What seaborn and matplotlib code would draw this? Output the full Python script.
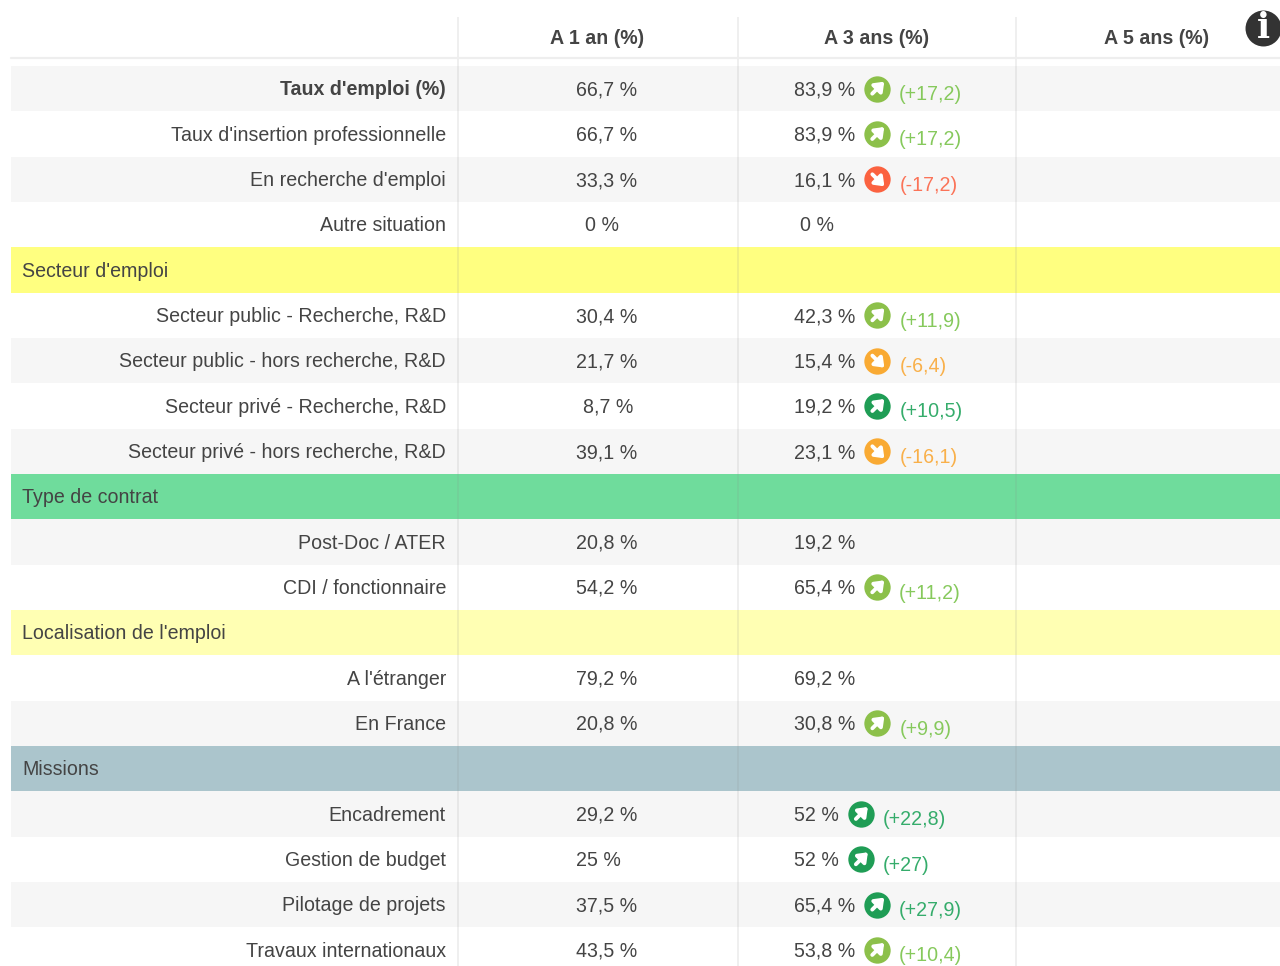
import matplotlib
matplotlib.use('Agg')
import matplotlib.pyplot as plt
from matplotlib.colors import ListedColormap
import numpy as np
import seaborn as sns

sns.set_theme(style='white')
plt.rcParams['font.family'] = ['Liberation Sans', 'DejaVu Sans']

# donnees du tableau
headers = ['A 1 an (%)', 'A 3 ans (%)', 'A 5 ans (%)']
labels = ["Taux d'emploi (%)", "Taux d'insertion professionnelle", "En recherche d'emploi", "Autre situation",
          "Secteur d'emploi", "Secteur public - Recherche, R&D", "Secteur public - hors recherche, R&D",
          "Secteur privé - Recherche, R&D", "Secteur privé - hors recherche, R&D",
          "Type de contrat", "Post-Doc / ATER", "CDI / fonctionnaire",
          "Localisation de l'emploi", "A l'étranger", "En France",
          "Missions", "Encadrement", "Gestion de budget", "Pilotage de projets", "Travaux internationaux"]
an1 = ['66,7 %', '66,7 %', '33,3 %', '0 %', '', '30,4 %', '21,7 %', '8,7 %', '39,1 %', '', '20,8 %', '54,2 %',
       '', '79,2 %', '20,8 %', '', '29,2 %', '25 %', '37,5 %', '43,5 %']
an3 = ['83,9 %', '83,9 %', '16,1 %', '0 %', '', '42,3 %', '15,4 %', '19,2 %', '23,1 %', '', '19,2 %', '65,4 %',
       '', '69,2 %', '30,8 %', '', '52 %', '52 %', '65,4 %', '53,8 %']
delta = ['+17,2', '+17,2', '-17,2', '', '', '+11,9', '-6,4', '+10,5', '-16,1', '', '', '+11,2',
         '', '', '+9,9', '', '+22,8', '+27', '+27,9', '+10,4']
trend = ['light', 'light', 'red', '', '', 'light', 'orange', 'dark', 'orange', '', '', 'light',
         '', '', 'light', '', 'dark', 'dark', 'dark', 'light']
# 0 blanc, 1 gris, 2 jaune, 3 vert, 4 jaune clair, 5 bleu
row_kind = [1, 0, 1, 0, 2, 0, 1, 0, 1, 3, 1, 0, 4, 0, 1, 5, 1, 0, 1, 0]

row_colors = ['#ffffff', '#f6f6f6', '#ffff80', '#6fdc9c', '#ffffb3', '#abc5cc']
icon_colors = {'light': '#8cc04a', 'dark': '#1f9d55', 'red': '#fb6240', 'orange': '#f9aa33'}
delta_colors = {'light': '#86c95c', 'dark': '#35ac6b', 'red': '#fb7358', 'orange': '#f9b04a'}
text_color = '#444444'
fs = 14.1
W, H = 1280, 966
row_h = 45.33
top = 66

fig = plt.figure(figsize=(W / 100, H / 100), dpi=100, facecolor='white')

# fond des lignes
ax_bg = fig.add_axes([11 / W, (H - top - row_h * len(labels)) / H, (W - 11) / W, row_h * len(labels) / H])
sns.heatmap(np.array(row_kind).reshape(-1, 1), cmap=ListedColormap(row_colors), vmin=-0.5, vmax=5.5,
            cbar=False, xticklabels=False, yticklabels=False, ax=ax_bg)

# calque en pixels pour le texte
ax = fig.add_axes([0, 0, 1, 1], facecolor='none')
ax.set_xlim(0, W)
ax.set_ylim(H, 0)
ax.axis('off')

for x in [458, 738, 1016]:
    ax.plot([x, x], [17, H], color='#888888', alpha=0.17, lw=1.1, solid_capstyle='butt')
ax.plot([11, W], [58, 58], color='#eeeeee', lw=1.6)

for x, h in zip([597, 877, 1157], headers):
    ax.text(x, 38.5, h, ha='center', va='center', fontsize=fs, fontweight='bold', color=text_color)

renderer = fig.canvas.get_renderer()
inv = ax.transData.inverted()

for i, lab in enumerate(labels):
    y = top + row_h * (i + 0.5) + 1.2
    if row_kind[i] >= 2:
        ax.text(22, y, lab, ha='left', va='center', fontsize=fs, color=text_color)
        continue
    ax.text(446, y, lab, ha='right', va='center', fontsize=fs, color=text_color,
            fontweight='bold' if i == 0 else 'normal')
    x1 = {'0 %': 585, '8,7 %': 583}.get(an1[i], 576)
    ax.text(x1, y, an1[i], ha='left', va='center', fontsize=fs, color=text_color)
    x0 = 800 if an3[i] == '0 %' else 794
    t = ax.text(x0, y, an3[i], ha='left', va='center', fontsize=fs, color=text_color)
    if not delta[i]:
        continue
    # icone placee apres le texte
    end = inv.transform(t.get_window_extent(renderer).get_points())[1, 0]
    cx = end + 22
    cy = y - 1.2
    ax.scatter([cx], [cy], s=360, color=icon_colors[trend[i]], linewidths=0, zorder=3)
    s = 1 if delta[i][0] == '+' else -1
    ax.annotate('', xy=(cx + 7, cy - 7 * s), xytext=(cx - 5, cy + 5 * s), zorder=4,
                arrowprops=dict(arrowstyle='-|>,head_width=0.32,head_length=0.42', color='white', lw=2.8,
                                shrinkA=0, shrinkB=0))
    ax.text(cx + 22, y + 4.8, '(' + delta[i] + ')', ha='left', va='center', fontsize=fs,
            color=delta_colors[trend[i]])

# icone info
ax.scatter([1263], [28], s=670, color='#333333', linewidths=0, zorder=3)
ax.text(1263, 28, 'i', ha='center', va='center', fontsize=25, fontweight='bold',
        family='DejaVu Serif', color='white', zorder=4)

fig.savefig('out.png', dpi=100)
